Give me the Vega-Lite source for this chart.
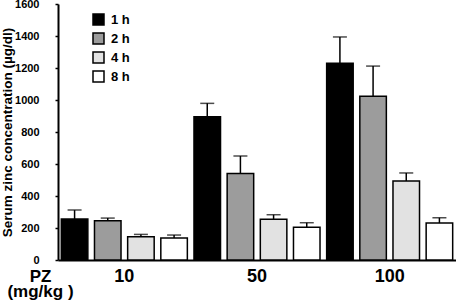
{
  "$schema": "https://vega.github.io/schema/vega-lite/v6.json",
  "autosize": "none",
  "padding": {"left": 58, "top": 4, "right": 0, "bottom": 43},
  "width": 398,
  "height": 256,
  "background": "white",
  "config": {
    "font": "Liberation Sans",
    "view": {"stroke": null},
    "axis": {"domainColor": "black", "tickColor": "black", "labelColor": "black", "titleColor": "black", "grid": false, "labelFontWeight": "bold", "titleFontWeight": "bold", "labelOverlap": false}
  },
  "data": {
    "values": [
      {"dose": "10", "time": "1 h", "value": 256, "upper": 312},
      {"dose": "10", "time": "2 h", "value": 246, "upper": 262},
      {"dose": "10", "time": "4 h", "value": 146, "upper": 160},
      {"dose": "10", "time": "8 h", "value": 137, "upper": 156},
      {"dose": "50", "time": "1 h", "value": 896, "upper": 979},
      {"dose": "50", "time": "2 h", "value": 540, "upper": 650},
      {"dose": "50", "time": "4 h", "value": 254, "upper": 283},
      {"dose": "50", "time": "8 h", "value": 204, "upper": 233},
      {"dose": "100", "time": "1 h", "value": 1229, "upper": 1394},
      {"dose": "100", "time": "2 h", "value": 1023, "upper": 1212},
      {"dose": "100", "time": "4 h", "value": 494, "upper": 544},
      {"dose": "100", "time": "8 h", "value": 231, "upper": 264}
    ]
  },
  "resolve": {"axis": {"y": "independent"}},
  "encoding": {
    "x": {
      "field": "dose", "type": "ordinal", "sort": ["10", "50", "100"],
      "scale": {"paddingInner": 0, "paddingOuter": 0},
      "axis": {
        "title": ["PZ", "(mg/kg )"], "titleFontSize": 17, "titleLineHeight": 15,
        "titleX": -18, "titleY": 8, "titleAlign": "center", "titleBaseline": "top",
        "labelAngle": 0, "labelFontSize": 18, "labelPadding": 7, "ticks": false,
        "domainWidth": 2
      }
    },
    "xOffset": {"field": "time", "type": "nominal", "sort": ["1 h", "2 h", "4 h", "8 h"], "scale": {"paddingInner": 0.2, "paddingOuter": 0.1}}
  },
  "layer": [
    {
      "mark": {"type": "bar", "stroke": "black", "strokeWidth": 1.5},
      "encoding": {
        "y": {
          "field": "value", "type": "quantitative",
          "scale": {"domain": [0, 1600], "nice": false},
          "axis": {
            "orient": "left",
            "values": [0, 400, 800, 1200, 1600],
            "format": "d",
            "labelOverlap": false, "labelBound": false, "labelFlush": false,
            "title": "Serum zinc concentration (µg/dl)", "titleFontSize": 13.5,
            "titleX": -50.5, "titleY": 128, "titleAngle": 270, "titleBaseline": "middle", "titleAlign": "center",
            "labelFontSize": 11, "labelPadding": 16, "tickSize": 3, "tickWidth": 1.5, "domainWidth": 2
          }
        },
        "fill": {
          "field": "time", "type": "nominal",
          "scale": {"domain": ["1 h", "2 h", "4 h", "8 h"], "range": ["#000000", "#9c9c9c", "#e2e2e2", "#ffffff"]},
          "legend": {
            "title": null, "orient": "none", "legendX": 34, "legendY": 9, "padding": 0,
            "symbolType": "square", "symbolSize": 121, "symbolStrokeColor": "black", "symbolStrokeWidth": 1.5,
            "labelFontSize": 13, "labelFontWeight": "bold", "labelColor": "black", "rowPadding": 2, "labelOffset": 6
          }
        }
      }
    },
    {
      "mark": {"type": "rule", "stroke": "black", "strokeWidth": 1.5},
      "encoding": {
        "y": {
          "field": "value", "type": "quantitative",
          "axis": {
            "orient": "left",
            "values": [200, 600, 1000, 1400],
            "format": "d", "title": null, "domain": false,
            "labelOverlap": false, "labelBound": false, "labelFlush": false,
            "labelFontSize": 11, "labelPadding": 16, "tickSize": 3, "tickWidth": 1.5
          }
        },
        "y2": {"field": "upper"}
      }
    },
    {
      "mark": {"type": "tick", "color": "black", "thickness": 1.5, "size": 14, "orient": "horizontal"},
      "encoding": {
        "y": {"field": "upper", "type": "quantitative", "axis": null}
      }
    }
  ]
}
